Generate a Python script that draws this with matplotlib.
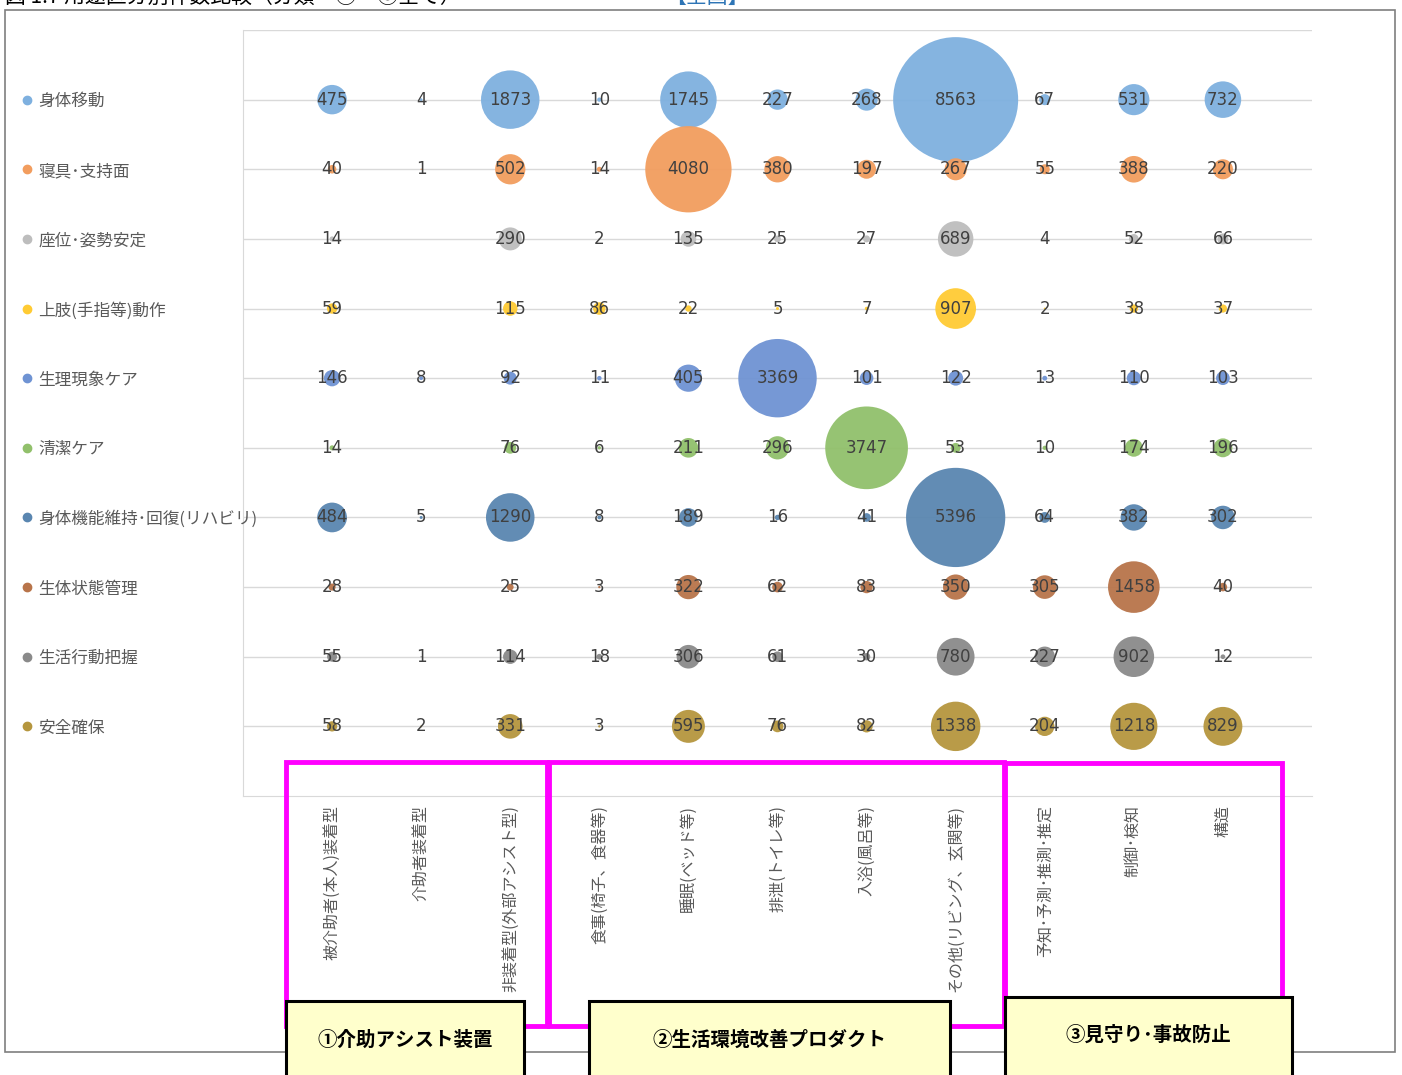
import numpy as np
import matplotlib
matplotlib.use("Agg")
import matplotlib.pyplot as plt
from matplotlib.patches import Rectangle

# ----------------------------------------------------------------------
# DATA
# ----------------------------------------------------------------------

columns = ["被介助者(本人)装着型", "介助者装着型", "非装着型(外部アシスト型)",
           "食事(椅子、食器等)", "睡眠(ベッド等)", "排泄(トイレ等)", "入浴(風呂等)",
           "その他(リビング、玄関等)", "予知･予測･推測･推定", "制御･検知", "構造"]

rows = ["身体移動", "寝具･支持面", "座位･姿勢安定", "上肢(手指等)動作", "生理現象ケア",
        "清潔ケア", "身体機能維持･回復(リハビリ)", "生体状態管理", "生活行動把握", "安全確保"]

nan = np.nan
counts = [
    [475, 4, 1873, 10, 1745, 227, 268, 8563, 67, 531, 732],
    [40, 1, 502, 14, 4080, 380, 197, 267, 55, 388, 220],
    [14, nan, 290, 2, 135, 25, 27, 689, 4, 52, 66],
    [59, nan, 115, 86, 22, 5, 7, 907, 2, 38, 37],
    [146, 8, 92, 11, 405, 3369, 101, 122, 13, 110, 103],
    [14, nan, 76, 6, 211, 296, 3747, 53, 10, 174, 196],
    [484, 5, 1290, 8, 189, 16, 41, 5396, 64, 382, 302],
    [28, nan, 25, 3, 322, 62, 83, 350, 305, 1458, 40],
    [55, 1, 114, 18, 306, 61, 30, 780, 227, 902, 12],
    [58, 2, 331, 3, 595, 76, 82, 1338, 204, 1218, 829],
]

row_colors = ["#7EB0DF", "#F29D5E", "#BDBDBD", "#FFCB33", "#6F93D3",
              "#91C06B", "#5A86B0", "#B8744A", "#8A8A8A", "#B5963E"]

groups = ["①介助アシスト装置", "②生活環境改善プロダクト", "③見守り･事故防止"]

CJK = ["Noto Sans CJK JP", "DejaVu Sans"]
W, H = 1402, 1075


def fx(x):
    return x / W


def fy(y):
    return 1 - y / H


# ----------------------------------------------------------------------
# FIGURE
# ----------------------------------------------------------------------

fig = plt.figure(figsize=(W / 100, H / 100), dpi=100)
fig.patch.set_facecolor("white")

# outer frame
fig.patches.append(Rectangle((fx(5), fy(1052)), fx(1390), 1042 / H,
                             transform=fig.transFigure, fill=False,
                             edgecolor="#7F7F7F", linewidth=1.2, zorder=0))

# title, cut at the top edge like in the source image
fig.text(fx(5), fy(3), "図 1.7 用途区分別件数比較（分類　①～③全て）", family=CJK,
         fontsize=15, color="black", va="baseline", ha="left")
fig.text(fx(665), fy(3), "【全国】", family=CJK, fontsize=15, color="#2E75B6",
         va="baseline", ha="left")

ax = fig.add_axes([fx(243), fy(796), fx(1312 - 243), (796 - 30) / H])
ax.set_xlim(0, 12)
ax.set_ylim(0, 11)

for y in range(1, 12):
    ax.axhline(y, color="#D9D9D9", linewidth=1, zorder=1)

vals = np.array(counts, dtype=float)
vmax = np.nanmax(vals)
max_size = (125 * 0.72) ** 2   # 125 px diameter for the largest bubble

for i, name in enumerate(rows):
    yy = 10 - i
    xs = np.arange(1, len(columns) + 1)
    v = vals[i]
    ok = ~np.isnan(v)
    ax.scatter(xs[ok], np.full(ok.sum(), yy), s=max_size * v[ok] / vmax,
               color=row_colors[i], alpha=0.95, linewidths=0, zorder=2)
    for x, val in zip(xs[ok], v[ok]):
        ax.text(x, yy, f"{int(val)}", ha="center", va="center", fontsize=12,
                color="#404040", zorder=3)
    # row label with coloured dot
    ax.plot([-2.42], [yy], "o", color=row_colors[i], markersize=6,
            clip_on=False, zorder=3)
    ax.text(-2.30, yy - 0.03, name, family=CJK, fontsize=12, color="#595959",
            ha="left", va="center", clip_on=False)

for j, col in enumerate(columns):
    ax.text(j + 1, -0.13, col, family=CJK, fontsize=11.5, color="#595959",
            rotation=90, ha="center", va="top", clip_on=False)

ax.set_xticks([])
ax.set_yticks([])
for side in ["top", "right"]:
    ax.spines[side].set_visible(False)
ax.spines["left"].set_color("#D9D9D9")
ax.spines["bottom"].set_color("#D9D9D9")

# ----------------------------------------------------------------------
# GROUP BOXES
# ----------------------------------------------------------------------

magenta_boxes = [(286, 762, 547, 1026), (549, 762, 1004, 1026),
                 (1005, 763, 1282, 1000)]
for x0, y0, x1, y1 in magenta_boxes:
    fig.patches.append(Rectangle((fx(x0), fy(y1)), fx(x1 - x0), (y1 - y0) / H,
                                 transform=fig.transFigure, fill=False,
                                 edgecolor="#FF00FF", linewidth=3.5, zorder=5))

label_boxes = [(286, 1001, 524, 1040), (589, 1001, 950, 1040),
               (1005, 997, 1292, 1035)]
for (x0, y0, x1, ty), label in zip(label_boxes, groups):
    fig.patches.append(Rectangle((fx(x0), fy(1090)), fx(x1 - x0), (1090 - y0) / H,
                                 transform=fig.transFigure, facecolor="#FFFFCC",
                                 edgecolor="black", linewidth=2.2, zorder=6))
    fig.text(fx((x0 + x1) / 2), fy(ty), label, family=CJK, fontsize=14,
             fontweight="bold", color="black", ha="center", va="center", zorder=7)

fig.savefig("out.png", dpi=100)
